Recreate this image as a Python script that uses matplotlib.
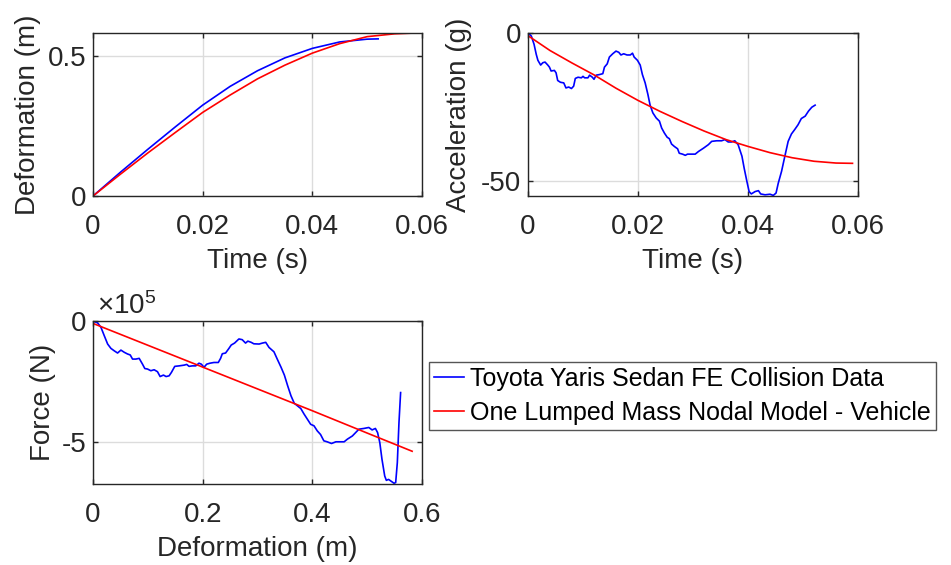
import matplotlib
matplotlib.use("Agg")
import matplotlib.pyplot as plt
from matplotlib.ticker import FuncFormatter

plt.rcParams['font.family'] = ['Liberation Sans', 'DejaVu Sans']
plt.rcParams['mathtext.fontset'] = 'custom'
plt.rcParams['mathtext.rm'] = 'Liberation Sans'

# ---- Data ----
# Deformation vs time
t_def_fe = [0, 0.005, 0.010, 0.015, 0.020, 0.025, 0.030, 0.035, 0.040, 0.045, 0.048, 0.050, 0.052]
d_def_fe = [0, 0.085, 0.167, 0.247, 0.325, 0.392, 0.448, 0.494, 0.528, 0.551, 0.557, 0.561, 0.562]
t_def_model = [0, 0.005, 0.010, 0.015, 0.020, 0.025, 0.030, 0.035, 0.040, 0.045, 0.050, 0.055, 0.0588]
d_def_model = [0, 0.078, 0.154, 0.227, 0.299, 0.361, 0.419, 0.468, 0.511, 0.545, 0.570, 0.580, 0.583]

# Acceleration vs time
t_acc_fe = [0, 0.0006, 0.0011, 0.0015, 0.0018, 0.0023, 0.0027, 0.0031, 0.0036, 0.0039,
            0.0042, 0.0048, 0.0051, 0.0054, 0.0059, 0.0065, 0.0069, 0.0074, 0.0079, 0.0083,
            0.0086, 0.0091, 0.0097, 0.0100, 0.0103, 0.0109, 0.0112, 0.0117, 0.0120, 0.0124,
            0.0130, 0.0136, 0.0139, 0.0144, 0.0148, 0.0154, 0.0160, 0.0165, 0.0169, 0.0174,
            0.0180, 0.0186, 0.0190, 0.0193, 0.0199, 0.0204, 0.0208, 0.0213, 0.0218, 0.0222,
            0.0227, 0.0233, 0.0239, 0.0243, 0.0248, 0.0253, 0.0257, 0.0261, 0.0266, 0.0272,
            0.0275, 0.0281, 0.0286, 0.0290, 0.0296, 0.0304, 0.0310, 0.0319, 0.0328, 0.0334,
            0.0343, 0.0352, 0.0358, 0.0364, 0.0370, 0.0376, 0.0382, 0.0389, 0.0393, 0.0398,
            0.0402, 0.0406, 0.0413, 0.0419, 0.0423, 0.0431, 0.0440, 0.0446, 0.0451, 0.0455,
            0.0461, 0.0467, 0.0473, 0.0479, 0.0485, 0.0491, 0.0497, 0.0504, 0.0510, 0.0516,
            0.0522]
g_acc_fe = [0, -1.0, -3.8, -7.2, -9.2, -10.8, -10.0, -9.8, -10.8, -11.5,
            -12.8, -12.6, -13.4, -16.0, -16.6, -16.8, -18.5, -18.2, -18.7, -17.9,
            -15.3, -14.9, -15.1, -14.6, -15.1, -15.1, -14.2, -14.9, -15.6, -14.2,
            -14.0, -13.7, -11.5, -10.4, -8.1, -7.0, -6.1, -6.5, -7.4, -7.0,
            -7.4, -7.4, -6.8, -8.1, -9.2, -10.8, -14.0, -16.8, -20.7, -24.3,
            -26.9, -28.6, -29.7, -32.0, -33.7, -35.1, -35.6, -37.4, -38.2, -39.0,
            -40.5, -40.8, -41.2, -40.8, -40.8, -40.8, -39.9, -38.8, -37.6, -36.5,
            -36.3, -36.3, -35.9, -36.7, -36.7, -36.3, -37.6, -41.5, -45.5, -50.0,
            -53.4, -54.2, -53.4, -53.1, -54.2, -54.5, -54.3, -54.7, -53.9, -50.6,
            -46.6, -41.5, -36.5, -34.0, -32.5, -30.9, -28.8, -28.0, -26.3, -25.0,
            -24.3]
t_acc_model = [0, 0.004, 0.008, 0.012, 0.016, 0.020, 0.024, 0.028, 0.032, 0.036,
               0.040, 0.044, 0.048, 0.052, 0.056, 0.059]
g_acc_model = [-0.9, -5.9, -10.1, -14.1, -18.6, -22.7, -26.4, -29.8, -33.0, -35.9,
               -38.2, -40.3, -42.0, -43.2, -43.8, -43.9]

# Force vs deformation (x1e5 N)
d_force_fe = [0, 0.0085, 0.0145, 0.0206, 0.0267, 0.0327, 0.0388, 0.0448, 0.0509, 0.0570,
              0.0630, 0.0679, 0.0721, 0.0782, 0.0842, 0.0903, 0.0945, 0.0994, 0.1055, 0.1115,
              0.1176, 0.1224, 0.1285, 0.1333, 0.1388, 0.1430, 0.1491, 0.1570, 0.1661, 0.1709,
              0.1752, 0.1812, 0.1873, 0.1933, 0.1976, 0.2024, 0.2073, 0.2133, 0.2206, 0.2285,
              0.2327, 0.2358, 0.2418, 0.2479, 0.2521, 0.2582, 0.2661, 0.2721, 0.2782, 0.2824,
              0.2885, 0.2933, 0.303, 0.309, 0.315, 0.321, 0.330, 0.336, 0.343, 0.349,
              0.355, 0.361, 0.367, 0.373, 0.379, 0.385, 0.391, 0.397, 0.403, 0.409,
              0.415, 0.421, 0.427, 0.435, 0.443, 0.450, 0.458, 0.464, 0.473, 0.479,
              0.485, 0.494, 0.503, 0.509, 0.515, 0.519, 0.523, 0.527, 0.532, 0.535,
              0.539, 0.544, 0.549, 0.552, 0.555, 0.558, 0.561]
f_force_fe = [0, -0.08, -0.26, -0.61, -0.95, -1.13, -1.23, -1.32, -1.20, -1.29,
              -1.36, -1.40, -1.57, -1.57, -1.54, -1.78, -1.96, -1.98, -2.05, -2.01,
              -2.09, -2.29, -2.23, -2.29, -2.26, -2.12, -1.87, -1.85, -1.82, -1.79,
              -1.87, -1.85, -1.85, -1.74, -1.78, -1.91, -1.78, -1.74, -1.71, -1.71,
              -1.54, -1.35, -1.32, -1.13, -0.99, -0.91, -0.74, -0.77, -0.91, -0.83,
              -0.88, -0.94, -0.95, -0.91, -0.88, -1.09, -1.27, -1.57, -1.91, -2.23,
              -2.67, -3.08, -3.39, -3.50, -3.61, -3.84, -4.05, -4.26, -4.32, -4.53,
              -4.68, -4.94, -4.98, -5.05, -4.98, -4.98, -4.98, -4.87, -4.74, -4.60,
              -4.46, -4.43, -4.39, -4.49, -4.43, -4.60, -5.01, -5.70, -6.39, -6.57,
              -6.53, -6.61, -6.69, -6.66, -5.84, -4.19, -2.95]
d_force_model = [0, 0.1, 0.2, 0.3, 0.4, 0.5, 0.582]
f_force_model = [-0.10, -1.00, -1.90, -2.80, -3.70, -4.62, -5.37]

labels = ['Toyota Yaris Sedan FE Collision Data', 'One Lumped Mass Nodal Model - Vehicle']
SCALE = 1e5

# ---- Figure ----
W, H = 951, 565
fig = plt.figure(figsize=(W / 100, H / 100), dpi=100)

def fr(x0, y0, x1, y1):
    return [x0 / W, 1 - y1 / H, (x1 - x0) / W, (y1 - y0) / H]

ax1 = fig.add_axes(fr(93, 33, 422, 196))
ax2 = fig.add_axes(fr(528, 33, 858, 196))
ax3 = fig.add_axes(fr(93, 321, 422, 484))

dark = '#262626'
FS = 20
for ax in (ax1, ax2, ax3):
    ax.grid(True, color='#dcdcdc', linewidth=1.0)
    ax.set_axisbelow(True)
    for s in ax.spines.values():
        s.set_color(dark)
        s.set_linewidth(1.0)
    ax.tick_params(direction='in', length=3.5, width=1.0, color=dark,
                   labelcolor=dark, labelsize=FS, top=True, right=True)
    ax.tick_params(axis='x', pad=13)
    ax.tick_params(axis='y', pad=5)

lw = 1.2
l1, = ax1.plot(t_def_fe, d_def_fe, color='#0000ff', lw=lw)
l2, = ax1.plot(t_def_model, d_def_model, color='#ff0000', lw=lw)
ax1.set_xlim(0, 0.06)
ax1.set_ylim(0, 0.583)
ax1.set_xticks([0, 0.02, 0.04, 0.06])
ax1.set_xticklabels(['0', '0.02', '0.04', '0.06'])
ax1.set_yticks([0, 0.5])
ax1.set_yticklabels(['0', '0.5'])
ax1.set_xlabel('Time (s)', fontsize=FS, color=dark, labelpad=6)
ax1.set_ylabel('Deformation (m)', fontsize=FS, color=dark)
ax1.yaxis.set_label_coords(-0.158, 0.5)

ax2.plot(t_acc_fe, g_acc_fe, color='#0000ff', lw=lw)
ax2.plot(t_acc_model, g_acc_model, color='#ff0000', lw=lw)
ax2.set_xlim(0, 0.06)
ax2.set_ylim(-54.9, 0)
ax2.set_xticks([0, 0.02, 0.04, 0.06])
ax2.set_xticklabels(['0', '0.02', '0.04', '0.06'])
ax2.set_yticks([-50, 0])
ax2.set_yticklabels(['-50', '0'])
ax2.set_xlabel('Time (s)', fontsize=FS, color=dark, labelpad=6)
ax2.set_ylabel('Acceleration (g)', fontsize=FS, color=dark)
ax2.yaxis.set_label_coords(-0.17, 0.5)

ax3.plot(d_force_fe, [v * SCALE for v in f_force_fe], color='#0000ff', lw=lw)
ax3.plot(d_force_model, [v * SCALE for v in f_force_model], color='#ff0000', lw=lw)
ax3.set_xlim(0, 0.6)
ax3.set_ylim(-6.72 * SCALE, 0)
ax3.set_xticks([0, 0.2, 0.4, 0.6])
ax3.set_xticklabels(['0', '0.2', '0.4', '0.6'])
ax3.set_yticks([-5 * SCALE, 0])
ax3.yaxis.set_major_formatter(FuncFormatter(lambda v, p: '%g' % (v / SCALE)))
ax3.set_xlabel('Deformation (m)', fontsize=FS, color=dark, labelpad=6)
ax3.set_ylabel('Force (N)', fontsize=FS, color=dark)
ax3.yaxis.set_label_coords(-0.112, 0.5)
ax3.text(0.012, 1.045, r'$\times\mathregular{10^{5}}$', transform=ax3.transAxes,
         fontsize=FS, color=dark, ha='left', va='baseline')

leg = fig.legend([l1, l2], labels, loc='upper left',
                 bbox_to_anchor=(429 / W, 1 - 362 / H), borderaxespad=0,
                 fontsize=18, frameon=True, fancybox=False, framealpha=1,
                 edgecolor='#555555', handlelength=1.2, handletextpad=0.25,
                 borderpad=0.2, labelspacing=0.4)
leg.get_frame().set_linewidth(1.0)

fig.savefig('out.png', dpi=100)
